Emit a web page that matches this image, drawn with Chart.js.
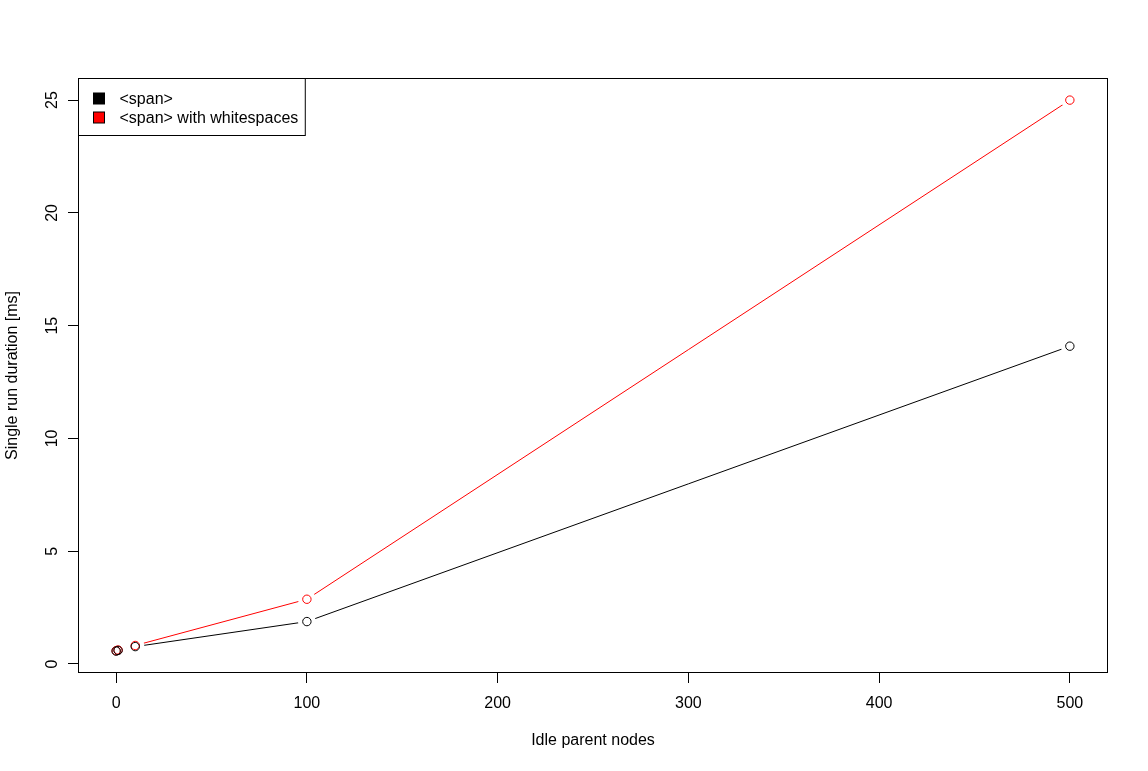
<!DOCTYPE html>
<html>
<head>
<meta charset="utf-8">
<script src="https://cdn.jsdelivr.net/npm/chart.js@4/dist/chart.umd.min.js"></script>
<style>
  html, body { margin: 0; padding: 0; background: #fff; }
  #wrap { width: 1148px; height: 771px; }
</style>
</head>
<body>
<div id="wrap"><canvas id="c" width="1148" height="771"></canvas></div>
<script>
// ---- data ----
const nodes = [0, 1, 10, 100, 500];
const spanDur = [0.57, 0.60, 0.77, 1.88, 14.09];
const spanWsDur = [0.59, 0.62, 0.82, 2.87, 25.0];
const seriesLabels = ['<span>', '<span> with whitespaces'];
const seriesColors = ['#000000', '#ff0000'];
const xTicks = [0, 100, 200, 300, 400, 500];
const yTicks = [0, 5, 10, 15, 20, 25];
const xTitle = 'Idle parent nodes';
const yTitle = 'Single run duration [ms]';

const FONT = 'Liberation Sans, Arial, Helvetica, sans-serif';

function pts(ys) { return nodes.map((x, i) => ({x: x, y: ys[i]})); }

const datasets = [];
const all = [spanDur, spanWsDur];
// lines
all.forEach((ys, i) => datasets.push({
  data: pts(ys), borderColor: seriesColors[i], borderWidth: 1,
  pointRadius: 0, showLine: true, fill: false, order: 10 - i
}));
// white gaps around points (like R type="b")
all.forEach((ys, i) => datasets.push({
  data: pts(ys), showLine: false, pointRadius: 9, pointBorderWidth: 0,
  pointBackgroundColor: '#ffffff', pointBorderColor: '#ffffff', order: 6 - i
}));
// open circles (black drawn on top)
all.forEach((ys, i) => datasets.push({
  data: pts(ys), showLine: false, pointRadius: 4.2, pointBorderWidth: 1,
  pointBackgroundColor: 'rgba(0,0,0,0)', pointBorderColor: seriesColors[i], order: 1 + i
}));

const boxPlugin = {
  id: 'rbox',
  afterDraw(chart) {
    const {ctx, chartArea: a} = chart;
    ctx.save();
    ctx.strokeStyle = '#000';
    ctx.lineWidth = 1;
    ctx.strokeRect(Math.round(a.left) + 0.5, Math.round(a.top) + 0.5,
                   Math.round(a.right - a.left) - 1, Math.round(a.bottom - a.top) - 1);
    // legend (top-left, inside plot box)
    ctx.font = '16px ' + FONT;
    const textW = Math.max(...seriesLabels.map(s => ctx.measureText(s).width));
    const lx = Math.round(a.left) + 0.5, ly = Math.round(a.top) + 0.5;
    const w = 41 + textW + 7, h = 57;
    ctx.fillStyle = '#fff';
    ctx.fillRect(lx, ly, w, h);
    ctx.strokeRect(lx, ly, w, h);
    ctx.textBaseline = 'middle';
    ctx.textAlign = 'left';
    seriesLabels.forEach((s, i) => {
      const cy = ly + 20 + i * 19;
      ctx.fillStyle = seriesColors[i];
      ctx.fillRect(lx + 15, cy - 5.5, 11, 11);
      ctx.strokeStyle = '#000';
      ctx.strokeRect(lx + 15, cy - 5.5, 11, 11);
      ctx.fillStyle = '#000';
      ctx.fillText(s, lx + 41, cy + 1);
    });
    ctx.restore();
  }
};

new Chart(document.getElementById('c'), {
  type: 'scatter',
  data: { datasets },
  plugins: [boxPlugin],
  options: {
    responsive: false,
    animation: false,
    devicePixelRatio: 1,
    layout: { padding: { top: 78, right: 40, left: 0, bottom: 0 } },
    plugins: { legend: { display: false }, tooltip: { enabled: false } },
    scales: {
      x: {
        type: 'linear', min: -20, max: 520,
        afterBuildTicks: s => { s.ticks = xTicks.map(v => ({value: v})); },
        afterFit: s => { s.height = 98; },
        grid: { drawOnChartArea: false, drawTicks: true, tickLength: 10, tickColor: '#000', tickWidth: 1 },
        border: { display: false },
        ticks: { color: '#000', font: { family: FONT, size: 16 }, padding: 11, maxRotation: 0, autoSkip: false },
        title: { display: true, text: xTitle, color: '#000', font: { family: FONT, size: 16 }, padding: { top: 4, bottom: 21 } }
      },
      y: {
        type: 'linear', min: -0.4, max: 25.98,
        afterBuildTicks: s => { s.ticks = yTicks.map(v => ({value: v})); },
        afterFit: s => { s.width = 78; },
        grid: { drawOnChartArea: false, drawTicks: true, tickLength: 10, tickColor: '#000', tickWidth: 1 },
        border: { display: false },
        ticks: { color: '#000', font: { family: FONT, size: 16 }, padding: 7, minRotation: 90, maxRotation: 90, crossAlign: 'center', autoSkip: false },
        title: { display: true, text: yTitle, color: '#000', font: { family: FONT, size: 16 }, padding: { top: 3, bottom: 4 } }
      }
    }
  }
});
</script>
</body>
</html>
